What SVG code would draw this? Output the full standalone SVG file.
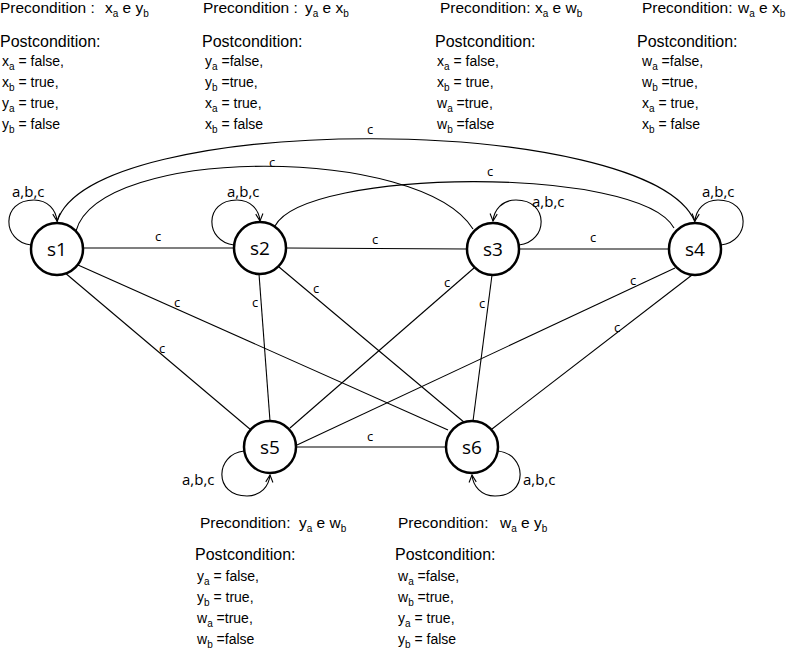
<svg xmlns="http://www.w3.org/2000/svg" width="792" height="650" viewBox="0 0 792 650">
<defs>
<marker id="arr" viewBox="0 0 10 10" refX="9" refY="5" markerWidth="9" markerHeight="9" markerUnits="userSpaceOnUse" orient="auto">
<path d="M1,1 L9,5 L1,9" fill="none" stroke="#000" stroke-width="1.2"/>
</marker>
</defs>
<style>
.t text{font-family:"Liberation Sans",Arial,sans-serif;fill:#000}
.h{font-size:16px}
.p{font-size:15.5px}
.l{font-size:14px}
.s{font-size:10px}
.node circle{fill:#fff;stroke:#000;stroke-width:2.5}
.node text{font-family:"Open Sans",sans-serif;font-size:19px;text-anchor:middle;fill:#000}
.e{fill:none;stroke:#000;stroke-width:1.1}
.loop{fill:none;stroke:#000;stroke-width:1.1;marker-end:url(#arr)}
.lb{font-family:"Open Sans",sans-serif;font-size:13px;text-anchor:middle;fill:#000}
.lp{font-family:"Open Sans",sans-serif;font-size:15px;fill:#000}
</style>
<rect width="792" height="650" fill="#fff"/>

<g id="cond-s1" class="t">
<text class="p" x="0" y="13">Precondition :</text>
<text class="p" x="105" y="13">x<tspan class="s" dy="4">a</tspan><tspan dy="-4"> e y</tspan><tspan class="s" dy="4">b</tspan></text>
<text class="h" x="0" y="47">Postcondition:</text>
<text class="l" x="2" y="66">x<tspan class="s" dy="4">a</tspan><tspan dy="-4"> = false,</tspan></text>
<text class="l" x="2" y="87">x<tspan class="s" dy="4">b</tspan><tspan dy="-4"> = true,</tspan></text>
<text class="l" x="2" y="108">y<tspan class="s" dy="4">a</tspan><tspan dy="-4"> = true,</tspan></text>
<text class="l" x="2" y="129">y<tspan class="s" dy="4">b</tspan><tspan dy="-4"> = false</tspan></text>
</g>

<g id="cond-s2" class="t">
<text class="p" x="203" y="13">Precondition :</text>
<text class="p" x="305" y="13">y<tspan class="s" dy="4">a</tspan><tspan dy="-4"> e x</tspan><tspan class="s" dy="4">b</tspan></text>
<text class="h" x="202" y="47">Postcondition:</text>
<text class="l" x="205" y="66">y<tspan class="s" dy="4">a</tspan><tspan dy="-4"> =false,</tspan></text>
<text class="l" x="205" y="87">y<tspan class="s" dy="4">b</tspan><tspan dy="-4"> =true,</tspan></text>
<text class="l" x="205" y="108">x<tspan class="s" dy="4">a</tspan><tspan dy="-4"> = true,</tspan></text>
<text class="l" x="205" y="129">x<tspan class="s" dy="4">b</tspan><tspan dy="-4"> = false</tspan></text>
</g>

<g id="cond-s3" class="t">
<text class="p" x="440" y="13">Precondition:</text>
<text class="p" x="535" y="13">x<tspan class="s" dy="4">a</tspan><tspan dy="-4"> e w</tspan><tspan class="s" dy="4">b</tspan></text>
<text class="h" x="435" y="47">Postcondition:</text>
<text class="l" x="437" y="66">x<tspan class="s" dy="4">a</tspan><tspan dy="-4"> = false,</tspan></text>
<text class="l" x="437" y="87">x<tspan class="s" dy="4">b</tspan><tspan dy="-4"> = true,</tspan></text>
<text class="l" x="437" y="108">w<tspan class="s" dy="4">a</tspan><tspan dy="-4"> =true,</tspan></text>
<text class="l" x="437" y="129">w<tspan class="s" dy="4">b</tspan><tspan dy="-4"> =false</tspan></text>
</g>

<g id="cond-s4" class="t">
<text class="p" x="642" y="13">Precondition:</text>
<text class="p" x="738" y="13">w<tspan class="s" dy="4">a</tspan><tspan dy="-4"> e x</tspan><tspan class="s" dy="4">b</tspan></text>
<text class="h" x="637" y="47">Postcondition:</text>
<text class="l" x="642" y="66">w<tspan class="s" dy="4">a</tspan><tspan dy="-4"> =false,</tspan></text>
<text class="l" x="642" y="87">w<tspan class="s" dy="4">b</tspan><tspan dy="-4"> =true,</tspan></text>
<text class="l" x="642" y="108">x<tspan class="s" dy="4">a</tspan><tspan dy="-4"> = true,</tspan></text>
<text class="l" x="642" y="129">x<tspan class="s" dy="4">b</tspan><tspan dy="-4"> = false</tspan></text>
</g>

<g id="cond-s5" class="t">
<text class="p" x="200" y="528">Precondition:</text>
<text class="p" x="299" y="528">y<tspan class="s" dy="4">a</tspan><tspan dy="-4"> e w</tspan><tspan class="s" dy="4">b</tspan></text>
<text class="h" x="195" y="560">Postcondition:</text>
<text class="l" x="197" y="581">y<tspan class="s" dy="4">a</tspan><tspan dy="-4"> = false,</tspan></text>
<text class="l" x="197" y="602">y<tspan class="s" dy="4">b</tspan><tspan dy="-4"> = true,</tspan></text>
<text class="l" x="197" y="623">w<tspan class="s" dy="4">a</tspan><tspan dy="-4"> =true,</tspan></text>
<text class="l" x="197" y="644">w<tspan class="s" dy="4">b</tspan><tspan dy="-4"> =false</tspan></text>
</g>

<g id="cond-s6" class="t">
<text class="p" x="398" y="528">Precondition:</text>
<text class="p" x="500" y="528">w<tspan class="s" dy="4">a</tspan><tspan dy="-4"> e y</tspan><tspan class="s" dy="4">b</tspan></text>
<text class="h" x="395" y="560">Postcondition:</text>
<text class="l" x="398" y="581">w<tspan class="s" dy="4">a</tspan><tspan dy="-4"> =false,</tspan></text>
<text class="l" x="398" y="602">w<tspan class="s" dy="4">b</tspan><tspan dy="-4"> =true,</tspan></text>
<text class="l" x="398" y="623">y<tspan class="s" dy="4">a</tspan><tspan dy="-4"> = true,</tspan></text>
<text class="l" x="398" y="644">y<tspan class="s" dy="4">b</tspan><tspan dy="-4"> = false</tspan></text>
</g>

<g id="connectors">
<path class="e" d="M83,248 L233,248"/>
<path class="e" d="M286,248 L467,249"/>
<path class="e" d="M519,249 L669,249"/>
<path class="e" d="M297,447 L446,447"/>
<path class="e" d="M64,272 L251,430"/>
<path class="e" d="M78,265 L448,430"/>
<path class="e" d="M259,274 L270,421"/>
<path class="e" d="M279,267 L465,423"/>
<path class="e" d="M474,268 L290,428"/>
<path class="e" d="M492,275 L473,421"/>
<path class="e" d="M675,268 L297,445"/>
<path class="e" d="M692,275 L492,429"/>
<path class="e" d="M57,222 C90,110 650,112 695,222"/>
<path class="e" d="M76,231 C100,145 420,145 473,229"/>
<path class="e" d="M275,226 C305,168 640,165 674,228"/>
<path class="loop" d="M31,245 C2,242 0,200 34,200 C48,200 56,210 57,221"/>
<path class="loop" d="M234,245 C205,242 203,200 237,200 C251,200 259,210 260,221"/>
<path class="loop" d="M519,245 C548,242 550,200 516,200 C502,200 494,210 493,221"/>
<path class="loop" d="M721,245 C750,242 752,200 718,200 C704,200 696,210 695,221"/>
<path class="loop" d="M244,451 C215,454 213,496 247,496 C261,496 269,486 270,475"/>
<path class="loop" d="M498,451 C527,454 529,496 495,496 C481,496 473,486 472,475"/>
<text class="lb" x="158" y="241">c</text>
<text class="lb" x="375" y="244">c</text>
<text class="lb" x="593" y="242">c</text>
<text class="lb" x="370" y="441">c</text>
<text class="lb" x="370" y="134">c</text>
<text class="lb" x="272" y="167">c</text>
<text class="lb" x="490" y="176">c</text>
<text class="lb" x="162" y="353">c</text>
<text class="lb" x="177" y="307">c</text>
<text class="lb" x="255" y="307">c</text>
<text class="lb" x="316" y="293">c</text>
<text class="lb" x="447" y="287">c</text>
<text class="lb" x="482" y="308">c</text>
<text class="lb" x="633" y="285">c</text>
<text class="lb" x="617" y="332">c</text>
<text class="lp" x="12" y="197">a,b,c</text>
<text class="lp" x="227" y="197">a,b,c</text>
<text class="lp" x="532" y="207">a,b,c</text>
<text class="lp" x="702" y="197">a,b,c</text>
<text class="lp" x="182" y="485">a,b,c</text>
<text class="lp" x="523" y="485">a,b,c</text>
</g>

<g id="s1" class="node"><circle cx="57" cy="249" r="26"/><text x="57" y="256">s1</text></g>
<g id="s2" class="node"><circle cx="260" cy="248" r="26"/><text x="260" y="255">s2</text></g>
<g id="s3" class="node"><circle cx="493" cy="249" r="26"/><text x="493" y="256">s3</text></g>
<g id="s4" class="node"><circle cx="695" cy="249" r="26"/><text x="695" y="256">s4</text></g>
<g id="s5" class="node"><circle cx="270" cy="447" r="26"/><text x="270" y="454">s5</text></g>
<g id="s6" class="node"><circle cx="472" cy="447" r="26"/><text x="472" y="454">s6</text></g>
</svg>
